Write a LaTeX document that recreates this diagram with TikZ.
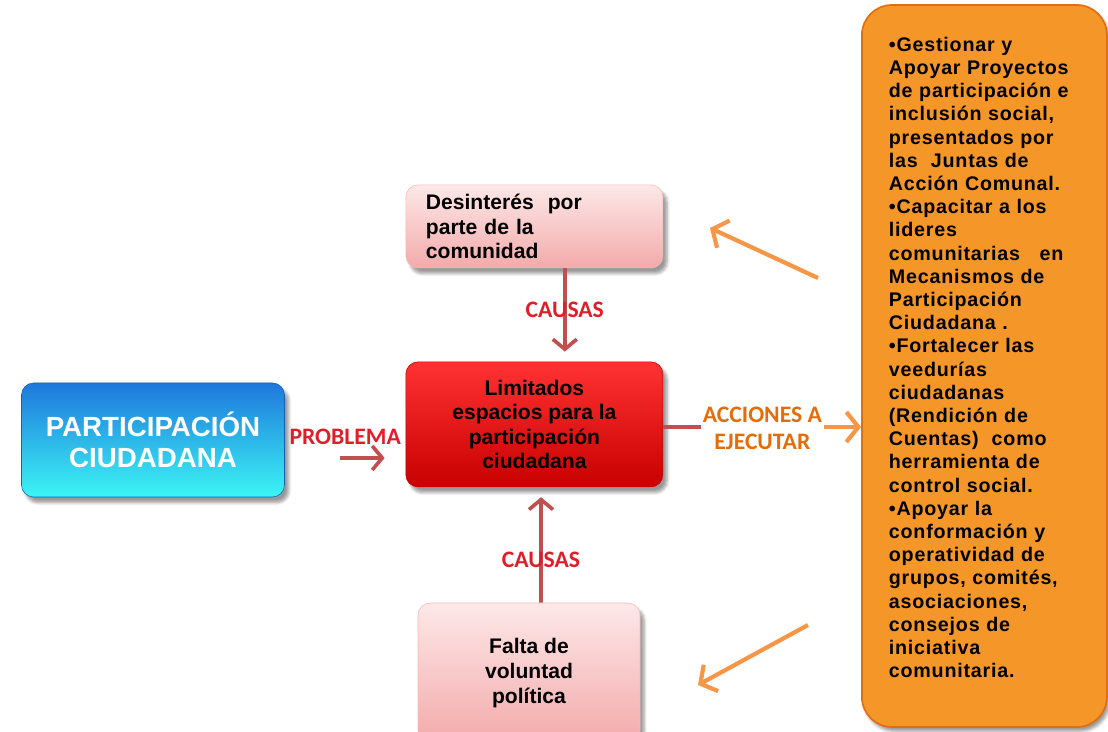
\documentclass[tikz,border=0pt]{standalone}
\usepackage{fontspec}
\setmainfont{Liberation Sans}
\newfontfamily\labfont{Carlito}
\newfontfamily\widefont[LetterSpace=4]{Liberation Sans}
\usetikzlibrary{arrows.meta,shadows.blur}

\definecolor{bluetop}{RGB}{30,120,220}
\definecolor{bluebot}{RGB}{60,245,245}
\definecolor{redtop}{RGB}{255,50,50}
\definecolor{redbot}{RGB}{200,0,0}
\definecolor{pinktop}{RGB}{253,232,232}
\definecolor{pinkbot}{RGB}{243,170,170}
\definecolor{orfill}{RGB}{245,150,40}
\definecolor{ordraw}{RGB}{226,110,20}
\definecolor{causeline}{RGB}{192,80,77}
\definecolor{causetext}{RGB}{225,30,40}
\definecolor{actline}{RGB}{247,150,70}
\definecolor{acttext}{RGB}{228,108,10}

\begin{document}
\begin{tikzpicture}[scale=1.0,
    box/.style={rounded corners=0.3cm, font=\bfseries\fontsize{15}{17.5}\selectfont,
      blur shadow={shadow xshift=3pt, shadow yshift=-4pt, shadow blur steps=6}},
    pinkbox/.style={box, top color=pinktop, bottom color=pinkbot, draw=pinkbot!80!white},
    lab/.style={font=\labfont\bfseries\fontsize{16.8}{19}\selectfont},
    cause/.style={draw=causeline, line width=2.6pt, -{Straight Barb[length=2.5mm,width=6mm]}},
    act/.style={draw=actline, line width=3pt, -{Straight Barb[length=3mm,width=7.5mm]}}]
    \useasboundingbox (0,0) rectangle (27.7,18.3);
    % --- central problem ---
    \node[box, minimum width=6.425cm, minimum height=3.125cm, top color=redtop, bottom color=redbot,
      draw=redbot, align=center] (limit) at (13.36,7.69)
      {Limitados\\espacios para la\\participación\\ciudadana};
    % --- the topic ---
    \node[box, minimum width=6.575cm, minimum height=2.85cm, top color=bluetop, bottom color=bluebot,
      draw=bluetop!80!black, text=white, align=center, font=\bfseries\fontsize{19.7}{22}\selectfont]
      (part) at (3.825,7.3) {PARTICIPACIÓN\\CIUDADANA};
    % --- the two causes ---
    \node[pinkbox, minimum width=6.425cm, minimum height=2.075cm, text width=5.425cm,
      inner xsep=0.5cm, align=left] (desint) at (13.36,12.64)
      {Desinterés~ por\\parte de la\\comunidad};
    \node[pinkbox, minimum width=5.55cm, minimum height=3.5cm, align=center] (falta) at (13.225,1.475)
      {Falta de\\voluntad\\política};
    % --- actions to carry out ---
    \node[rounded corners=0.75cm, fill=orfill, draw=ordraw, line width=1.2pt,
      minimum width=6.125cm, minimum height=18.05cm, text width=4.775cm, inner xsep=0.675cm,
      align=left, font=\widefont\bfseries\fontsize{14}{16.5}\selectfont,
      blur shadow={shadow xshift=2pt, shadow yshift=-3pt}] (acc) at (24.61,9.15)
      {•Gestionar y\\Apoyar Proyectos\\de participación e\\inclusión social,\\presentados por\\
       las~ Juntas de\\Acción Comunal.\\•Capacitar a los\\lideres\\comunitarias~~ en\\
       Mecanismos de\\Participación\\Ciudadana .\\•Fortalecer las\\veedurías\\ciudadanas\\
       (Rendición de\\Cuentas)~ como\\herramienta de\\control social.\\•Apoyar la\\
       conformación y\\operatividad de\\grupos, comités,\\asociaciones,\\consejos de\\
       iniciativa\\comunitaria.\\[-0.15cm]\mbox{}};
    % --- connectors ---
    \draw[cause, shorten >=0.25cm] ([xshift=0.76cm]desint.south) -- ([xshift=0.76cm]limit.north)
      node[lab, pos=0.45, text=causetext] {CAUSAS};
    \draw[cause, shorten >=0.25cm] ([xshift=0.3cm]falta.north) -- ([xshift=0.165cm]limit.south)
      node[lab, pos=0.37, text=causetext] {CAUSAS};
    \draw[cause, shorten <=1.375cm, shorten >=0.525cm] ([yshift=-0.45cm]part.east) -- ([yshift=-0.45cm]part.east -| limit.west)
      node[lab, midway, yshift=0.52cm, text=causetext] {PROBLEMA};
    \node[lab, align=center, text=acttext, inner xsep=1pt] (todo) at (19.06,7.6) {ACCIONES A\\EJECUTAR};
    \draw[causeline, line width=2.6pt] (limit.east |- 0,7.625) -- (todo.west |- 0,7.625);
    \draw[act] (todo.east |- 0,7.625) -- (acc.west |- 0,7.625);
    % --- orange pointers ---
    \coordinate (upfrom) at (20.45,11.35);
    \coordinate (upto) at (17.75,12.6);
    \coordinate (downfrom) at (20.2,2.675);
    \coordinate (downto) at (17.45,1.175);
    \draw[act] (upfrom) -- (upto);
    \draw[act] (downfrom) -- (downto);
\end{tikzpicture}
\end{document}
